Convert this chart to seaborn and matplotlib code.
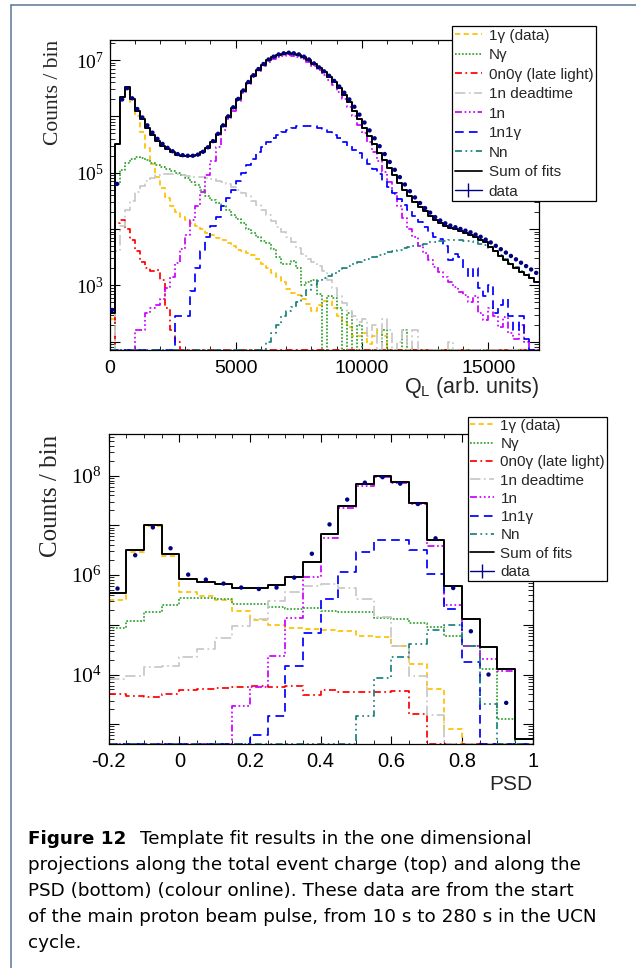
import numpy as np
import matplotlib
matplotlib.use("Agg")
import matplotlib.pyplot as plt
from matplotlib.lines import Line2D
from matplotlib.ticker import LogLocator, FuncFormatter, MultipleLocator, NullFormatter
import seaborn as sns

nan = np.nan

# ------------------------------------------------------------------
# Q_L projection: bins of 200 arb. units from 0 to 17000
# values are log10(counts / bin); nan marks an empty bin
# ------------------------------------------------------------------
ql_edges = np.arange(0, 17001, 200)

ql_sum = [2.5, 5.5, 6.35, 6.52, 6.3, 6.1, 5.95, 5.8, 5.67, 5.56,
          5.48, 5.42, 5.36, 5.32, 5.30, 5.29, 5.29, 5.31, 5.36, 5.44,
          5.55, 5.68, 5.83, 5.99, 6.15, 6.3, 6.45, 6.6, 6.72, 6.83,
          6.92, 7.0, 7.05, 7.09, 7.11, 7.12, 7.11, 7.09, 7.05, 7.0,
          6.93, 6.85, 6.78, 6.7, 6.61, 6.5, 6.38, 6.25, 6.1, 5.95,
          5.8, 5.65, 5.5, 5.35, 5.22, 5.08, 4.95, 4.81, 4.69, 4.58,
          4.48, 4.39, 4.31, 4.23, 4.16, 4.1, 4.06, 4.02, 3.99, 3.96,
          3.93, 3.89, 3.85, 3.81, 3.76, 3.68, 3.6, 3.52, 3.44, 3.37,
          3.31, 3.24, 3.18, 3.12, 3.06]

ql_data = [2.56, 4.8, 6.3, 6.5, 6.32, 6.13, 5.98, 5.84, 5.71, 5.6,
           5.51, 5.44, 5.38, 5.33, 5.31, 5.30, 5.30, 5.32, 5.37, 5.45,
           5.56, 5.69, 5.84, 6.0, 6.16, 6.31, 6.46, 6.61, 6.73, 6.84,
           6.93, 7.01, 7.06, 7.1, 7.12, 7.13, 7.12, 7.1, 7.06, 7.01,
           6.94, 6.87, 6.8, 6.72, 6.63, 6.53, 6.42, 6.3, 6.17, 6.03,
           5.89, 5.75, 5.61, 5.47, 5.33, 5.19, 5.05, 4.92, 4.79, 4.67,
           4.56, 4.46, 4.37, 4.29, 4.21, 4.15, 4.1, 4.06, 4.03, 4.0,
           3.97, 3.94, 3.9, 3.86, 3.81, 3.76, 3.7, 3.64, 3.58, 3.52,
           3.46, 3.4, 3.34, 3.28, 3.22]

ql_1gamma = [2.4, 5.5, 6.35, 6.5, 6.25, 6.0, 5.72, 5.43, 5.15, 4.92,
             4.72, 4.55, 4.4, 4.3, 4.22, 4.16, 4.1, 4.05, 3.99, 3.93,
             3.89, 3.84, 3.8, 3.75, 3.7, 3.63, 3.6, 3.58, 3.54, 3.47,
             3.38, 3.3, 3.22, 3.15, 3.05, 2.93, 2.87, 2.83, 2.75, 2.66,
             2.55, 2.65, 2.72, 2.72, 2.6, 2.45, 2.35, 2.25, 2.1, 2.1,
             2.15, 1.95, 2.1, 2.2, 2.1] + [nan] * 30

ql_ngamma = [nan, 4.8, 5.05, 5.17, 5.25, 5.28, 5.26, 5.22, 5.18, 5.13,
             5.1, 5.07, 5.03, 5.0, 4.96, 4.9, 4.84, 4.78, 4.69, 4.58,
             4.52, 4.46, 4.4, 4.33, 4.25, 4.17, 4.1, 4.0, 3.93, 3.85,
             3.79, 3.75, 3.65, 3.5, 3.38, 3.38, 3.43, 3.3, 3.0, 3.05,
             3.1, 2.85, nan, 2.8, 2.78, 2.6, nan, 2.5, nan, 2.3,
             nan, nan, nan, nan, 2.2, nan, nan, nan, 2.2, nan] + [nan] * 25

ql_late = [nan, 4.1, 4.15, 4.0, 3.8, 3.6, 3.42, 3.3, 3.25, 3.27,
           3.1, 2.6, 2.2, 2.0] + [nan] * 71

ql_deadtime = [nan, 3.6, 4.05, 4.33, 4.5, 4.65, 4.77, 4.85, 4.91, 4.95,
               4.97, 4.98, 4.98, 4.97, 4.95, 4.94, 4.93, 4.93, 4.92, 4.91,
               4.89, 4.86, 4.83, 4.79, 4.74, 4.69, 4.64, 4.58, 4.5, 4.42,
               4.33, 4.24, 4.14, 4.04, 3.95, 3.85, 3.76, 3.66, 3.55, 3.47,
               3.42, 3.35, 3.25, 3.1, 2.95, 2.8, 2.68, 2.55, 2.45, 2.35,
               2.4, 2.1, 2.3, nan, 2.4, 2.2, nan, 2.0, 2.2, nan,
               2.2, nan, nan, nan, nan, nan, nan, 2.0, nan, nan] + [nan] * 15

ql_1n = [nan, nan, nan, nan, nan, 2.2, 2.2, 2.5, 2.6, 2.65,
         2.75, 2.95, 3.15, 3.4, 3.65, 3.9, 4.15, 4.4, 4.65, 4.95,
         5.2, 5.45, 5.75, 5.95, 6.1, 6.27, 6.42, 6.57, 6.69, 6.8,
         6.89, 6.97, 7.02, 7.06, 7.08, 7.09, 7.08, 7.06, 7.02, 6.97,
         6.9, 6.82, 6.74, 6.65, 6.55, 6.44, 6.31, 6.17, 6.01, 5.85,
         5.7, 5.54, 5.37, 5.2, 5.02, 4.83, 4.62, 4.41, 4.2, 4.0,
         3.85, 3.7, 3.57, 3.44, 3.32, 3.23, 3.14, 3.05, 2.97, 2.88,
         2.82, 2.7, 2.8, 2.5, 2.38, 2.6, 2.45, 2.25, 2.44, 2.15,
         2.05, 2.3, 2.0, nan, nan]

ql_1n1gamma = [nan] * 13 + [2.45, 2.45, 2.45, 2.9, 3.3, 3.6, 3.85,
               4.05, 4.22, 4.4, 4.55, 4.7, 4.85, 5.0, 5.13, 5.25, 5.36,
               5.45, 5.54, 5.61, 5.67, 5.72, 5.76, 5.79, 5.82, 5.83, 5.83,
               5.82, 5.8, 5.77, 5.72, 5.67, 5.61, 5.55, 5.48, 5.41, 5.34,
               5.25, 5.16, 5.07, 4.97, 4.86, 4.75, 4.64, 4.53, 4.43, 4.33,
               4.23, 4.13, 4.03, 3.93, 3.85, 3.83, 3.7, 3.45, 3.55, 3.5,
               3.3, 3.15, 3.3, 2.95, 2.8, 3.0, 2.5, 2.65, 2.75, 2.45,
               2.2, 2.45, 2.05, nan, nan]

ql_nn = [nan] * 31 + [2.0, 2.15, 2.3, 2.45, 2.55, 2.62, 2.7, 2.8, 2.92,
         3.0, 3.07, 3.12, 3.17, 3.21, 3.26, 3.3, 3.34, 3.37, 3.41,
         3.44, 3.47, 3.5, 3.53, 3.56, 3.59, 3.61, 3.63, 3.66, 3.68,
         3.7, 3.72, 3.74, 3.76, 3.77, 3.78, 3.79, 3.8, 3.8, 3.8,
         3.79, 3.78, 3.76, 3.74, 3.71, 3.66, 3.6, 3.53, 3.46, 3.39,
         3.33, 3.26, 3.2, 3.12, 3.05]

# ------------------------------------------------------------------
# PSD projection: bins of 0.05 from -0.2 to 1.0, log10(counts / bin)
# ------------------------------------------------------------------
psd_edges = np.linspace(-0.2, 1.0, 25)

psd_sum = [5.63, 6.50, 7.0, 6.42, 5.92, 5.87, 5.82, 5.74, 5.75, 5.81, 5.97, 6.27,
           6.83, 7.40, 7.83, 8.0, 7.88, 7.46, 6.71, 5.79, 5.11, 4.55, 4.12, 2.71]
psd_data = [5.73, 6.40, 6.96, 6.54, 6.01, 5.91, 5.83, 5.75, 5.72, 5.75, 5.95, 6.43,
            7.02, 7.52, 7.86, 7.97, 7.84, 7.43, 6.74, 5.74, 4.87, 4.0, 3.43, nan]
psd_1gamma = [5.50, 6.47, 6.98, 6.39, 5.67, 5.58, 5.50, 5.27, 5.09, 4.99, 4.94, 4.92,
              4.90, 4.88, 4.77, 4.75, 4.57, 4.22, 3.70, 2.91, nan, nan, nan, nan]
psd_ngamma = [4.94, 5.07, 5.25, 5.40, 5.53, 5.54, 5.52, 5.42, 5.42, 5.35, 5.32, 5.33,
              5.28, 5.25, 5.25, 5.14, 5.11, 5.04, 4.96, 4.77, 4.57, 4.11, 3.11, nan]
psd_late = [3.61, 3.57, 3.55, 3.60, 3.68, 3.71, 3.73, 3.75, 3.77, 3.75, 3.76, 3.58,
            3.68, 3.65, 3.65, 3.65, 3.66, 3.20, nan, nan, nan, nan, nan, nan]
psd_deadtime = [3.90, 3.97, 4.15, 4.18, 4.35, 4.52, 4.74, 4.97, 5.12, 5.47, 5.67, 5.79,
                5.82, 5.74, 5.51, 5.16, 4.57, 3.98, 3.19, nan, nan, nan, nan, nan]
psd_1n = [nan, nan, nan, nan, nan, nan, nan, 3.36, 3.75, 4.37, 5.14, 5.96,
          6.74, 7.36, 7.79, 7.98, 7.86, 7.43, 6.59, 5.39, 4.57, 4.32, 4.07, 2.71]
psd_1n1gamma = [nan, nan, nan, nan, nan, nan, nan, nan, 2.78, 3.16, 4.17, 4.84,
                5.52, 6.07, 6.46, 6.71, 6.71, 6.51, 6.03, 5.31, 4.25, nan, nan, nan]
psd_nn = [nan] * 14 + [3.16, 3.93, 4.36, 4.62, 4.89, 4.99, 4.57, 3.40, nan, nan]

labels = ["1γ (data)", "Nγ", "0n0γ (late light)", "1n deadtime",
          "1n", "1n1γ", "Nn", "Sum of fits", "data"]

ql_series = [ql_1gamma, ql_ngamma, ql_late, ql_deadtime, ql_1n, ql_1n1gamma, ql_nn, ql_sum]
psd_series = [psd_1gamma, psd_ngamma, psd_late, psd_deadtime, psd_1n, psd_1n1gamma, psd_nn, psd_sum]

# line colours and dash patterns of the templates, then the sum
colors = ["#ffbf00", "#2fa32f", "#ff0000", "#c8c8c8", "#cc00ff", "#0000ff", "#1a8080", "black"]
dashes = [(0, (3, 2)), (0, (1, 1)), (0, (4, 2, 1, 2)), (0, (6, 2, 1, 2)),
          (0, (4, 1.5, 1, 1.5, 1, 1.5, 1, 1.5)), (0, (5, 3)), (0, (4, 2, 1, 2, 1, 2)), "-"]
data_color = "#000080"

# ------------------------------------------------------------------
sns.set_theme(style="ticks")
plt.rcParams["font.family"] = ["Liberation Sans", "DejaVu Sans"]
plt.rcParams["mathtext.fontset"] = "custom"
plt.rcParams["mathtext.rm"] = "Liberation Serif"
plt.rcParams["mathtext.it"] = "Liberation Serif:italic"
plt.rcParams["mathtext.sf"] = "Liberation Sans"
plt.rcParams["axes.facecolor"] = "white"
plt.rcParams["figure.facecolor"] = "white"

W, H = 636, 968
fig = plt.figure(figsize=(W / 100, H / 100), dpi=100)


def fx(px):
    return px / W


def fy(py):
    return 1 - py / H


ax1 = fig.add_axes([fx(109.5), fy(350), (538.7 - 109.5) / W, (350 - 40) / H])
ax2 = fig.add_axes([fx(108.7), fy(744), (532.7 - 108.7) / W, (744 - 434) / H])


def draw_panel(ax, edges, series, data, ymin, ymax):
    centers = 0.5 * (edges[:-1] + edges[1:])
    bin_list = [float(e) for e in edges]
    ax.set_yscale("log")
    for logv, c, ls in zip(series, colors, dashes):
        counts = np.where(np.isnan(logv), 0.0, 10.0 ** np.asarray(logv, dtype=float))
        # empty bins run along the lower frame, as in ROOT
        counts = np.maximum(counts, ymin)
        sns.histplot(x=centers, weights=counts, bins=bin_list, element="step", fill=False,
                     color=c, linestyle=ls, linewidth=1.25 if c != "black" else 1.4, ax=ax)
    dvals = 10.0 ** np.asarray(data, dtype=float)
    sns.scatterplot(x=centers, y=dvals, color=data_color, s=10, edgecolor="none",
                    ax=ax, zorder=5, legend=False)
    ax.set_xlim(edges[0], edges[-1])
    ax.set_ylim(ymin, ymax)
    ax.set_xlabel("")
    ax.set_ylabel("")
    for sp in ax.spines.values():
        sp.set_visible(True)
        sp.set_color("black")
        sp.set_linewidth(0.9)
    ax.tick_params(which="both", direction="in", top=True, right=True, color="black",
                   labelcolor="black")
    ax.tick_params(axis="y", which="major", length=7, width=0.8)
    ax.tick_params(axis="y", which="minor", length=3.5, width=0.6)
    ax.tick_params(axis="x", which="major", length=6, width=0.8)
    ax.tick_params(axis="x", which="minor", length=3, width=0.6)
    ax.yaxis.set_major_locator(LogLocator(base=10, subs=(1.0,), numticks=40))
    ax.yaxis.set_minor_locator(LogLocator(base=10, subs=np.arange(2, 10), numticks=40))
    ax.yaxis.set_minor_formatter(NullFormatter())


def decade_formatter(parity):
    def f(v, pos):
        e = int(round(np.log10(v)))
        return r"$10^{%d}$" % e if e % 2 == parity else ""
    return FuncFormatter(f)


draw_panel(ax1, ql_edges, ql_series, ql_data, 70.7, 2.27e7)
draw_panel(ax2, psd_edges, psd_series, psd_data, 400, 6.9e8)

ax1.xaxis.set_major_locator(MultipleLocator(5000))
ax1.xaxis.set_minor_locator(MultipleLocator(1000))
ax1.yaxis.set_major_formatter(decade_formatter(1))
ax1.tick_params(axis="x", labelsize=14, pad=7)
ax1.tick_params(axis="y", labelsize=14, pad=4)

ax2.xaxis.set_major_locator(MultipleLocator(0.2))
ax2.xaxis.set_minor_locator(MultipleLocator(0.05))
ax2.xaxis.set_major_formatter(FuncFormatter(lambda v, p: "%g" % round(v, 2)))
ax2.yaxis.set_major_formatter(decade_formatter(0))
ax2.tick_params(axis="x", labelsize=14.5, pad=6)
ax2.tick_params(axis="y", labelsize=15.5, pad=5)

# axis titles
fig.text(fx(54), fy(40), "Counts / bin", rotation=90, ha="center", va="top",
         fontfamily="Liberation Serif", fontsize=15.5)
fig.text(fx(50.7), fy(435), "Counts / bin", rotation=90, ha="center", va="top",
         fontfamily="Liberation Serif", fontsize=18)
fig.text(fx(538.7), fy(393), r"Q$_{\mathsf{L}}$ (arb. units)", ha="right", va="baseline",
         fontsize=15.5)
fig.text(fx(532.7), fy(790), "PSD", ha="right", va="baseline", fontsize=15)

# legends
handles = [Line2D([0], [0], color=c, linestyle=ls, linewidth=1.25) for c, ls in zip(colors, dashes)]
handles.append(Line2D([0], [0], color=data_color, linewidth=1.0, marker="|",
                      markersize=10, markeredgewidth=1.0))
leg_kw = dict(loc="upper left", bbox_transform=fig.transFigure, frameon=True, fancybox=False,
              framealpha=1, edgecolor="black", fontsize=11, borderaxespad=0)
leg1 = ax1.legend(handles, labels, bbox_to_anchor=(fx(452), fy(26)), labelspacing=0.36,
                  handlelength=1.77, handletextpad=0.46, borderpad=0.17, **leg_kw)
leg2 = ax2.legend(handles, labels, bbox_to_anchor=(fx(468), fy(416.7)), labelspacing=0.28,
                  handlelength=1.6, handletextpad=0.39, borderpad=0.13, **leg_kw)
for leg in (leg1, leg2):
    leg.get_frame().set_linewidth(0.9)
    leg.set_zorder(10)

# caption
cap_font = dict(fontfamily="DejaVu Sans", fontsize=13.2, color="black")
fig_lbl = fig.text(fx(28.4), fy(844), "Figure 12", va="baseline", fontweight="bold", **cap_font)
fig.canvas.draw()
bb = fig_lbl.get_window_extent()
fig.text((bb.x1 + 13) / W, fy(844), "Template fit results in the one dimensional",
         va="baseline", **cap_font)
caption_lines = ["projections along the total event charge (top) and along the",
                 "PSD (bottom) (colour online). These data are from the start",
                 "of the main proton beam pulse, from 10 s to 280 s in the UCN",
                 "cycle."]
for i, line in enumerate(caption_lines):
    fig.text(fx(28.4), fy(869.8 + 26 * i), line, va="baseline", **cap_font)

# page frame
frame_color = "#5b7696"
fig.add_artist(Line2D([fx(11), fx(11)], [fy(5), 0], transform=fig.transFigure,
                      color=frame_color, linewidth=1.1))
fig.add_artist(Line2D([fx(11), 1], [fy(5), fy(5)], transform=fig.transFigure,
                      color=frame_color, linewidth=1.1))

fig.savefig("out.png", dpi=100)
